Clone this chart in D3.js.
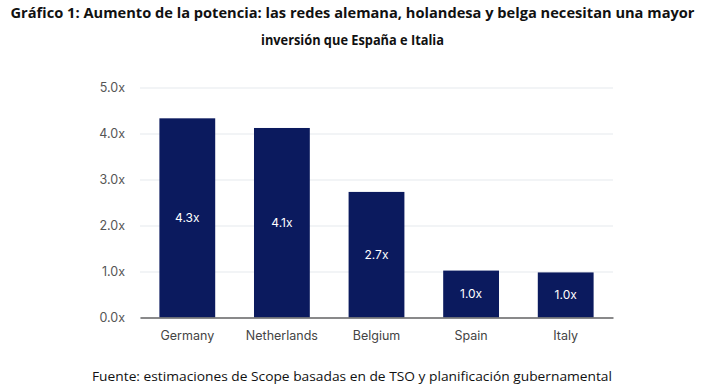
<!DOCTYPE html>
<html><head><meta charset="utf-8">
<script src="https://cdn.jsdelivr.net/npm/d3@7"></script>
<style>body{margin:0;background:#fff}svg{display:block}</style>
</head><body>
<script>
const categories = ["Germany","Netherlands","Belgium","Spain","Italy"];
const values = [4.33, 4.12, 2.73, 1.02, 0.98];
const valueLabels = ["4.3x","4.1x","2.7x","1.0x","1.0x"];
const yTicks = [0,1,2,3,4,5];
const titleLines = ["Gráfico 1: Aumento de la potencia: las redes alemana, holandesa y belga necesitan una mayor","inversión que España e Italia"];
const source = "Fuente: estimaciones de Scope basadas en de TSO y planificación gubernamental";

const W=705,H=391;
const svg=d3.select("body").append("svg").attr("width",W).attr("height",H);
const x=d3.scaleBand().domain(categories).range([140,613]).paddingInner(0.41).paddingOuter(0.205);
const y=d3.scaleLinear().domain([0,5]).range([317.5,87.5]);

// detect a narrow font
function hasFont(name){
  const a=svg.append("text").attr("font-family",`'${name}', monospace`).attr("font-size",20).text("abcdefghijklmnopWMil");
  const b=svg.append("text").attr("font-family","monospace").attr("font-size",20).text("abcdefghijklmnopWMil");
  const r=Math.abs(a.node().getComputedTextLength()-b.node().getComputedTextLength())>1;
  a.remove(); b.remove(); return r;
}
const narrow=hasFont("Liberation Sans Narrow");
const tf=narrow?"'Liberation Sans Narrow', 'Open Sans', sans-serif":"'Open Sans', 'Liberation Sans', sans-serif";

function addText(txt, cx, cy, size, bold){
  return svg.append("text").attr("x",cx).attr("y",cy).attr("text-anchor","middle")
    .attr("font-family",tf).attr("font-weight",bold?"bold":"normal").attr("font-size",size).attr("fill","#111").text(txt);
}
function fit(t,target){
  let size=+t.attr("font-size");
  const w=t.node().getComputedTextLength();
  if(w>target){ size=size*target/w*0.99; t.attr("font-size",size); }
  t.attr("textLength",target).attr("lengthAdjust","spacingAndGlyphs");
  return size;
}
const baseSize=narrow?16:14;
const t1=addText(titleLines[0],352.5,18,baseSize,true);
const s1=fit(t1,684);
const t2=addText(titleLines[1],352.5,45,s1,true);
t2.attr("textLength",183).attr("lengthAdjust","spacingAndGlyphs");

// grid
const yAxis=d3.axisLeft(y).tickValues(yTicks).tickFormat(d=>d3.format(".1f")(d)+"x").tickSize(-473).tickPadding(15);
const gy=svg.append("g").attr("transform","translate(140,0)").call(yAxis);
gy.select(".domain").remove();
gy.selectAll(".tick line").attr("stroke","#e6eaee").attr("stroke-width",1.2);
gy.selectAll(".tick text").attr("font-family","Inter, 'Liberation Sans', sans-serif").attr("font-size",12.5).attr("fill","#555");

// bars
svg.append("g").selectAll("rect").data(values).join("rect")
  .attr("x",(d,i)=>x(categories[i])).attr("width",x.bandwidth())
  .attr("y",d=>y(d)).attr("height",d=>y(0)-y(d)).attr("fill","#0b1a5e");

svg.append("g").selectAll("text").data(values).join("text")
  .attr("x",(d,i)=>x(categories[i])+x.bandwidth()/2).attr("y",d=>(y(d)+y(0))/2)
  .attr("dy","0.35em").attr("text-anchor","middle")
  .attr("font-family","Inter, 'Liberation Sans', sans-serif").attr("font-size",12).attr("fill","#fff")
  .text((d,i)=>valueLabels[i]);

// x axis
const xAxis=d3.axisBottom(x).tickSize(0).tickPadding(14);
const gx=svg.append("g").attr("transform","translate(0,317.5)").call(xAxis);
gx.select(".domain").attr("stroke","#666").attr("stroke-width",1.5);
gx.selectAll(".tick text").attr("font-family","Inter, 'Liberation Sans', sans-serif").attr("font-size",12.5).attr("fill","#444");

// source
const t3=addText(source,352,381,narrow?15:13.5,false);
fit(t3,520);
</script>
</body></html>
